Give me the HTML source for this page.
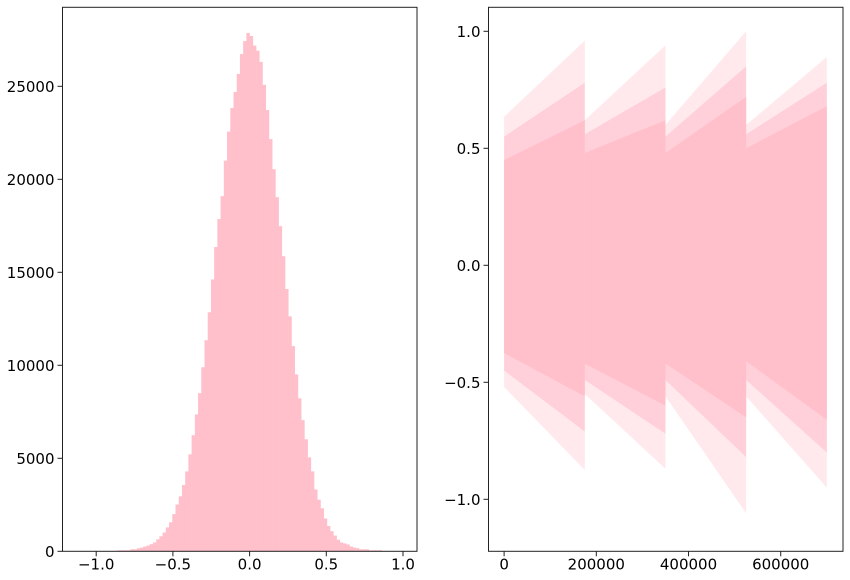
<!DOCTYPE html>
<html><head><meta charset="utf-8"><style>
html,body{margin:0;padding:0;background:#fff;}
svg{display:block;font-family:"DejaVu Sans","Liberation Sans",sans-serif;}
</style></head><body>
<svg id="chart" width="850" height="580" viewBox="0 0 850 580" xmlns="http://www.w3.org/2000/svg"></svg>
<script>
// ---- Histogram data ----
const histBinWidth = 0.021;
const histFirstIndex = -40;
const histCounts = [55,55,55,55,110,110,165,200,257,312,386,477,643,808,1010,1285,1561,2001,2515,2956,3562,4296,5214,6242,7362,8500,9896,11346,12852,14615,16359,17864,19094,21004,22564,23831,24694,25667,26732,27430,27870,
27705,27191,26916,26310,25080,23721,22161,20545,19039,17479,15863,14100,12632,11034,9510,8225,7050,6022,5049,4296,3323,2772,2313,1763,1359,1083,845,624,477,422,367,257,202,165,110,110,110,55,55,55,55];
const histXTicks = [-1.0,-0.5,0.0,0.5,1.0];
const histXTickLabels = ["−1.0","−0.5","0.0","0.5","1.0"];
const histYTicks = [0,5000,10000,15000,20000,25000];
const histYTickLabels = ["0","5000","10000","15000","20000","25000"];

// ---- Scatter data (per segment envelopes) ----
const segStart = [0,175000,350000,525000];
const segEnd = [175000,350000,525000,700000];
const coreTopStart = [0.45,0.48,0.48,0.50];
const coreTopEnd = [0.62,0.62,0.72,0.68];
const coreBotStart = [-0.375,-0.42,-0.42,-0.41];
const coreBotEnd = [-0.56,-0.60,-0.65,-0.66];
const midTopStart = [0.55,0.56,0.55,0.56];
const midTopEnd = [0.78,0.76,0.85,0.78];
const midBotStart = [-0.45,-0.49,-0.49,-0.49];
const midBotEnd = [-0.71,-0.72,-0.82,-0.80];
const outerTopStart = [0.635,0.62,0.60,0.60];
const outerTopEnd = [0.96,0.94,1.0,0.89];
const outerBotStart = [-0.52,-0.55,-0.56,-0.56];
const outerBotEnd = [-0.875,-0.87,-1.06,-0.95];
const scXTicks = [0,200000,400000,600000];
const scXTickLabels = ["0","200000","400000","600000"];
const scYTicks = [-1.0,-0.5,0.0,0.5,1.0];
const scYTickLabels = ["−1.0","−0.5","0.0","0.5","1.0"];

const NS="http://www.w3.org/2000/svg";
const svg=document.getElementById('chart');
function mk(tag,attrs,parent){const e=document.createElementNS(NS,tag);for(const k in attrs)e.setAttribute(k,attrs[k]);(parent||svg).appendChild(e);return e;}
const PINK="#FFC0CB";

// ---------- Left: histogram ----------
const L={x0:62.5,x1:417,y0:7.3,y1:551.3};
const hx=v=>249.6+v*(76.7/0.5);
const hy=c=>L.y1-c*(465/25000);
const gH=mk('g',{});


histCounts.forEach((c,i)=>{
  const k=histFirstIndex+i;
  const a=(k-1)*histBinWidth, b=k*histBinWidth;
  const r=mk('rect',{x:hx(a),y:hy(c),width:hx(b)-hx(a)+0.3,height:L.y1-hy(c),fill:PINK},gH);
  
  
});
const fr1=mk('rect',{x:L.x0,y:L.y0,width:L.x1-L.x0,height:L.y1-L.y0,fill:'none',stroke:'#222','stroke-width':1},gH);


histXTicks.forEach((t,i)=>{
  const x=hx(t);
  mk('line',{x1:x,x2:x,y1:L.y1,y2:L.y1+5,stroke:'#222'},gH);
  const tx=mk('text',{x:x,y:L.y1+18,'font-size':15,'text-anchor':'middle',fill:'#000'},gH);
  tx.textContent=histXTickLabels[i];
  
  
});
histYTicks.forEach((t,i)=>{
  const y=hy(t);
  mk('line',{x1:L.x0-5,x2:L.x0,y1:y,y2:y,stroke:'#222'},gH);
  const tx=mk('text',{x:L.x0-8,y:y+5.5,'font-size':15,'text-anchor':'end',fill:'#000'},gH);
  tx.textContent=histYTickLabels[i];
  
  
});

// ---------- Right: scatter ----------
const R={x0:488.5,x1:843,y0:7.3,y1:551.3};
const sx=v=>504.1+v*(355/770000);
const sy=v=>265.3-v*(117/0.5);
const gS=mk('g',{});


function band(i,ts,te,bs,be,op,name){
  const xa=sx(segStart[i]), xb=sx(segEnd[i]);
  const p=mk('polygon',{points:`${xa},${sy(ts[i])} ${xb},${sy(te[i])} ${xb},${sy(be[i])} ${xa},${sy(bs[i])}`,fill:PINK,'fill-opacity':op},gS);
  
  
}
for(let i=0;i<segStart.length;i++){
  band(i,outerTopStart,outerTopEnd,outerBotStart,outerBotEnd,0.35,'scatter-outer-band');
  band(i,midTopStart,midTopEnd,midBotStart,midBotEnd,0.6,'scatter-mid-band');
  band(i,coreTopStart,coreTopEnd,coreBotStart,coreBotEnd,1,'scatter-core-band');
}
const fr2=mk('rect',{x:R.x0,y:R.y0,width:R.x1-R.x0,height:R.y1-R.y0,fill:'none',stroke:'#222','stroke-width':1},gS);


scXTicks.forEach((t,i)=>{
  const x=sx(t);
  mk('line',{x1:x,x2:x,y1:R.y1,y2:R.y1+5,stroke:'#222'},gS);
  const tx=mk('text',{x:x,y:R.y1+18,'font-size':15,'text-anchor':'middle',fill:'#000'},gS);
  tx.textContent=scXTickLabels[i];
  
  
});
scYTicks.forEach((t,i)=>{
  const y=sy(t);
  mk('line',{x1:R.x0-5,x2:R.x0,y1:y,y2:y,stroke:'#222'},gS);
  const tx=mk('text',{x:R.x0-8,y:y+5.5,'font-size':15,'text-anchor':'end',fill:'#000'},gS);
  tx.textContent=scYTickLabels[i];
  
  
});
</script>
</body></html>
